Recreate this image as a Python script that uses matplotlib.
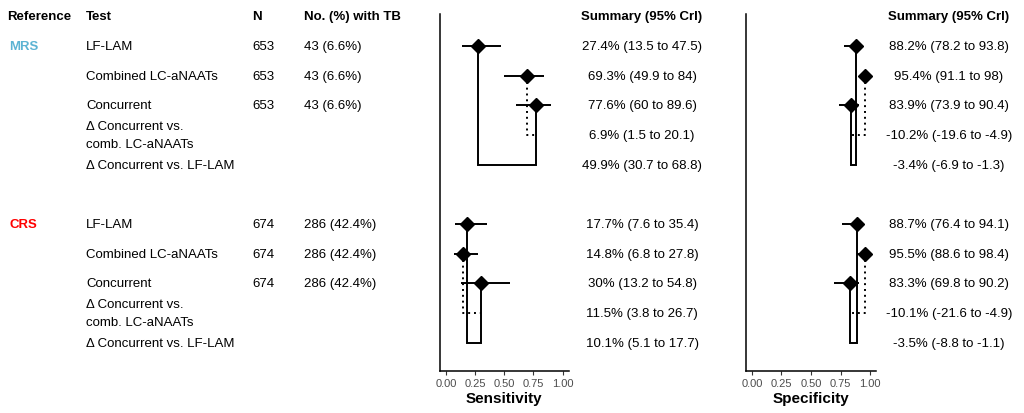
import numpy as np
import matplotlib
matplotlib.use('Agg')
import matplotlib.pyplot as plt
import matplotlib.transforms as mtransforms

plt.rcParams['font.family'] = ['Liberation Sans', 'DejaVu Sans']

# rows: 0-4 MRS, 6-10 CRS
groups = ['MRS', 'CRS']
group_colors = ['#5bb3d3', '#ff0000']
tests = ['LF-LAM', 'Combined LC-aNAATs', 'Concurrent',
         'Δ Concurrent vs.\ncomb. LC-aNAATs', 'Δ Concurrent vs. LF-LAM']
n_total = [653, 674]
n_tb = ['43 (6.6%)', '286 (42.4%)']

# point estimates and CrI for LF-LAM, Combined, Concurrent
sens_est = [[0.274, 0.693, 0.776], [0.177, 0.148, 0.300]]
sens_lo = [[0.135, 0.499, 0.600], [0.076, 0.068, 0.132]]
sens_hi = [[0.475, 0.840, 0.896], [0.354, 0.278, 0.548]]
spec_est = [[0.882, 0.954, 0.839], [0.887, 0.955, 0.833]]
spec_lo = [[0.782, 0.911, 0.739], [0.764, 0.886, 0.698]]
spec_hi = [[0.938, 0.980, 0.904], [0.941, 0.984, 0.902]]

sens_text = [['27.4% (13.5 to 47.5)', '69.3% (49.9 to 84)', '77.6% (60 to 89.6)',
              '6.9% (1.5 to 20.1)', '49.9% (30.7 to 68.8)'],
             ['17.7% (7.6 to 35.4)', '14.8% (6.8 to 27.8)', '30% (13.2 to 54.8)',
              '11.5% (3.8 to 26.7)', '10.1% (5.1 to 17.7)']]
spec_text = [['88.2% (78.2 to 93.8)', '95.4% (91.1 to 98)', '83.9% (73.9 to 90.4)',
              '-10.2% (-19.6 to -4.9)', '-3.4% (-6.9 to -1.3)'],
             ['88.7% (76.4 to 94.1)', '95.5% (88.6 to 98.4)', '83.3% (69.8 to 90.2)',
              '-10.1% (-21.6 to -4.9)', '-3.5% (-8.8 to -1.1)']]

fig = plt.figure(figsize=(10.24, 4.14), dpi=100)
ax_sens = fig.add_axes([440 / 1024, 42 / 414, 128.5 / 1024, 357 / 414])
ax_spec = fig.add_axes([746 / 1024, 42 / 414, 130 / 1024, 357 / 414])

ylim = (10.95, -1.08)
fs = 9.5


def draw_panel(ax, est, lo, hi, label):
    for g in range(2):
        base = g * 6
        r = [base + i for i in range(5)]
        lam, comb, conc = est[g]
        ax.plot([lam, lam, conc, conc], [r[0], r[4], r[4], r[2]],
                color='black', lw=1.4, solid_joinstyle='miter', zorder=2)
        ax.plot([comb, comb, conc], [r[1], r[3], r[3]],
                color='black', lw=1.4, ls=(0, (1, 2.0)), zorder=2)
        for i in range(3):
            ax.hlines(r[i], lo[g][i], hi[g][i], color='black', lw=1.4, zorder=3)
            ax.plot(est[g][i], r[i], marker='D', color='black', ms=7.5, zorder=4)
    ax.set_xlim(-0.05, 1.05)
    ax.set_ylim(*ylim)
    ax.set_yticks([])
    ax.set_xticks([0, 0.25, 0.5, 0.75, 1.0])
    ax.set_xticklabels(['0.00', '0.25', '0.50', '0.75', '1.00'])
    ax.tick_params(axis='x', labelsize=8, labelcolor='#4d4d4d', color='#333333',
                   length=3, width=0.8, pad=2)
    for s in ['top', 'right']:
        ax.spines[s].set_visible(False)
    for s in ['left', 'bottom']:
        ax.spines[s].set_linewidth(1.1)
    ax.set_xlabel(label, fontsize=11, fontweight='bold', labelpad=2)


draw_panel(ax_sens, sens_est, sens_lo, sens_hi, 'Sensitivity')
draw_panel(ax_spec, spec_est, spec_lo, spec_hi, 'Specificity')

tr = mtransforms.blended_transform_factory(fig.transFigure, ax_sens.transData)
hy = -1.0
fig.text(7 / 1024, hy, 'Reference', transform=tr, fontsize=fs, fontweight='bold', va='center')
fig.text(86 / 1024, hy, 'Test', transform=tr, fontsize=fs, fontweight='bold', va='center')
fig.text(252 / 1024, hy, 'N', transform=tr, fontsize=fs, fontweight='bold', va='center')
fig.text(304 / 1024, hy, 'No. (%) with TB', transform=tr, fontsize=fs, fontweight='bold', va='center')
fig.text(642 / 1024, hy, 'Summary (95% CrI)', transform=tr, fontsize=fs, fontweight='bold',
         va='center', ha='center')
fig.text(949 / 1024, hy, 'Summary (95% CrI)', transform=tr, fontsize=fs, fontweight='bold',
         va='center', ha='center')

for g in range(2):
    base = g * 6
    fig.text(9 / 1024, base, groups[g], transform=tr, fontsize=fs, fontweight='bold',
             color=group_colors[g], va='center')
    for i in range(5):
        fig.text(86 / 1024, base + i, tests[i], transform=tr, fontsize=fs, va='center',
                 linespacing=1.65)
        if i < 3:
            fig.text(252 / 1024, base + i, str(n_total[g]), transform=tr, fontsize=fs, va='center')
            fig.text(304 / 1024, base + i, n_tb[g], transform=tr, fontsize=fs, va='center')
        fig.text(642 / 1024, base + i, sens_text[g][i], transform=tr, fontsize=fs,
                 va='center', ha='center')
        fig.text(949 / 1024, base + i, spec_text[g][i], transform=tr, fontsize=fs,
                 va='center', ha='center')

fig.savefig('out.png', dpi=100)
